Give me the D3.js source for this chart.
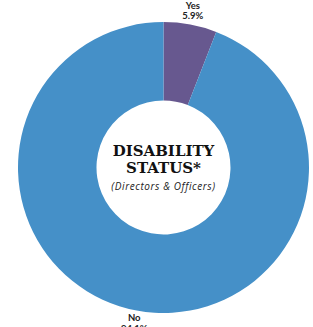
<!DOCTYPE html>
<html>
<head>
<meta charset="utf-8">
<script src="https://cdn.jsdelivr.net/npm/d3@7"></script>
<style>
  body { margin: 0; background: #fff; }
  svg { display: block; }
</style>
</head>
<body>
<svg id="chart" width="313" height="327"></svg>
<script>
// Data
const CATEGORIES = ["Yes", "No"];
const VALUES = [5.9, 94.1];
const COLORS = ["#67588f", "#4590c8"];

const SVG = d3.select("#chart");
const CX = 163.5, CY = 167.5;
const OUTER = 145.5, INNER = 67;

const g = SVG.append("g").attr("transform", `translate(${CX},${CY})`);

const pie = d3.pie().sort(null).value(d => d.value);
const data = pie(CATEGORIES.map((c, i) => ({ name: c, value: VALUES[i] })));

const arc = d3.arc().innerRadius(INNER).outerRadius(OUTER);
const color = d3.scaleOrdinal().domain(CATEGORIES).range(COLORS);

g.selectAll("path.slice")
  .data(data)
  .enter()
  .append("path")
  .attr("class", "slice")
  .attr("d", arc)
  .attr("fill", d => color(d.data.name));

// Slice labels outside the ring
const labelArc = d3.arc().innerRadius(159).outerRadius(159);
const labels = g.selectAll("text.lbl")
  .data(data)
  .enter()
  .append("text")
  .attr("class", "lbl")
  .attr("transform", d => `translate(${labelArc.centroid(d)})`)
  .attr("text-anchor", "middle")
  .attr("font-family", "Lato, 'Open Sans', sans-serif")
  .attr("font-weight", "bold")
  .attr("font-size", 9.5)
  .attr("fill", "#222");
labels.append("tspan").attr("x", 0).attr("dy", "-0.25em").text(d => d.data.name);
labels.append("tspan").attr("x", 0).attr("dy", "1.1em").text(d => d.data.value.toFixed(1) + "%");

// Centre title
const title = g.append("text")
  .attr("text-anchor", "middle")
  .attr("font-family", "'DejaVu Serif', serif")
  .attr("font-weight", "bold")
  .attr("font-size", 15)
  .attr("fill", "#111");
title.append("tspan").attr("x", 0).attr("y", -12).text("DISABILITY");
title.append("tspan").attr("x", 0).attr("y", 5).text("STATUS*");

g.append("text")
  .attr("text-anchor", "middle")
  .attr("x", 0)
  .attr("y", 22)
  .attr("font-family", "'Open Sans', Lato, sans-serif")
  .attr("font-style", "italic")
  .attr("font-size", 10)
  .attr("letter-spacing", 0.6)
  .attr("fill", "#222")
  .text("(Directors & Officers)");
</script>
</body>
</html>
